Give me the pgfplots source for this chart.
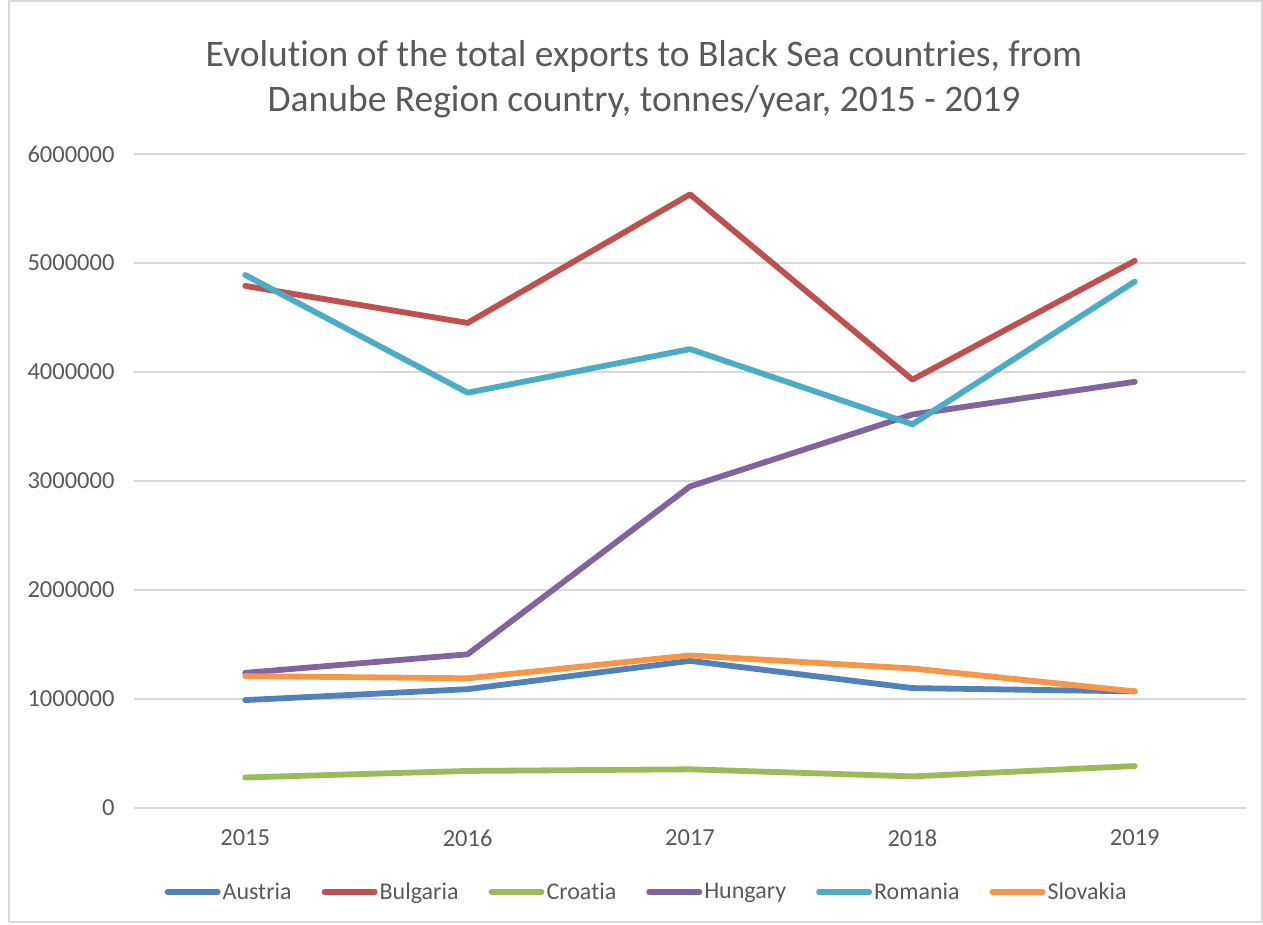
\documentclass[border=0pt]{standalone}
\usepackage{fontspec}
\setmainfont[Ligatures=NoCommon]{Carlito}
\usepackage{pgfplots}
\pgfplotsset{compat=1.18}
\definecolor{txt}{HTML}{595959}
\definecolor{grd}{HTML}{D9D9D9}
\definecolor{cA}{HTML}{4F81BD}
\definecolor{cB}{HTML}{C0504D}
\definecolor{cC}{HTML}{9BBB59}
\definecolor{cD}{HTML}{8064A2}
\definecolor{cE}{HTML}{4BACC6}
\definecolor{cF}{HTML}{F79646}
\begin{document}
\begin{tikzpicture}
\begin{axis}[
  scale only axis, width=1112pt, height=654pt,
  xmin=2014.5, xmax=2019.5, ymin=0, ymax=6000000,
  xtick={2015,2016,2017,2018,2019},
  ytick={0,1000000,2000000,3000000,4000000,5000000,6000000},
  scaled y ticks=false,
  /pgf/number format/assume math mode=true,
  xticklabel style={/pgf/number format/1000 sep={}, yshift=-18pt},
  yticklabel style={/pgf/number format/fixed, /pgf/number format/1000 sep={}, xshift=-16pt},
  tick label style={font=\fontsize{24.5}{28}\selectfont, color=txt},
  axis line style={draw=none},
  major tick length=0pt,
  ymajorgrids, grid style={grd, line width=1.5pt},
  every axis plot/.append style={line width=5.8pt, mark=none, line join=round, line cap=round},
  legend columns=6,
  legend style={draw=none, fill=none, at={(0.461,-0.128)}, anchor=center,
    font=\fontsize{24}{28}\selectfont, text=txt,
    /tikz/every odd column/.append style={column sep=0pt},
    /tikz/every even column/.append style={column sep=28pt}},
  legend image code/.code={\draw[#1, line width=6pt, line cap=round] (0pt,0pt) -- (50pt,0pt);},
]
\addplot[cA] coordinates {(2015,990000) (2016,1090000) (2017,1350000) (2018,1100000) (2019,1070000)};
\addlegendentry{Austria}
\addplot[cB] coordinates {(2015,4790000) (2016,4450000) (2017,5630000) (2018,3930000) (2019,5020000)};
\addlegendentry{Bulgaria}
\addplot[cC] coordinates {(2015,280000) (2016,340000) (2017,355000) (2018,290000) (2019,385000)};
\addlegendentry{Croatia}
\addplot[cD] coordinates {(2015,1240000) (2016,1410000) (2017,2950000) (2018,3610000) (2019,3910000)};
\addlegendentry{Hungary}
\addplot[cE] coordinates {(2015,4890000) (2016,3810000) (2017,4210000) (2018,3520000) (2019,4830000)};
\addlegendentry{Romania}
\addplot[cF] coordinates {(2015,1210000) (2016,1190000) (2017,1400000) (2018,1280000) (2019,1070000)};
\addlegendentry{Slovakia}
\end{axis}
\node[font=\fontsize{37.5}{45}\selectfont, text=txt, align=center] at ([xshift=-46pt, yshift=75pt]current axis.north)
  {Evolution of the total exports to Black Sea countries, from\\Danube Region country, tonnes/year, 2015 - 2019};
\draw[grd, line width=1.5pt] ([shift={(-125pt,-114pt)}]current axis.south west) rectangle ([shift={(16pt,153pt)}]current axis.north east);
\path ([shift={(-134pt,-116pt)}]current axis.south west) rectangle ([shift={(17pt,154pt)}]current axis.north east);
\end{tikzpicture}
\end{document}
